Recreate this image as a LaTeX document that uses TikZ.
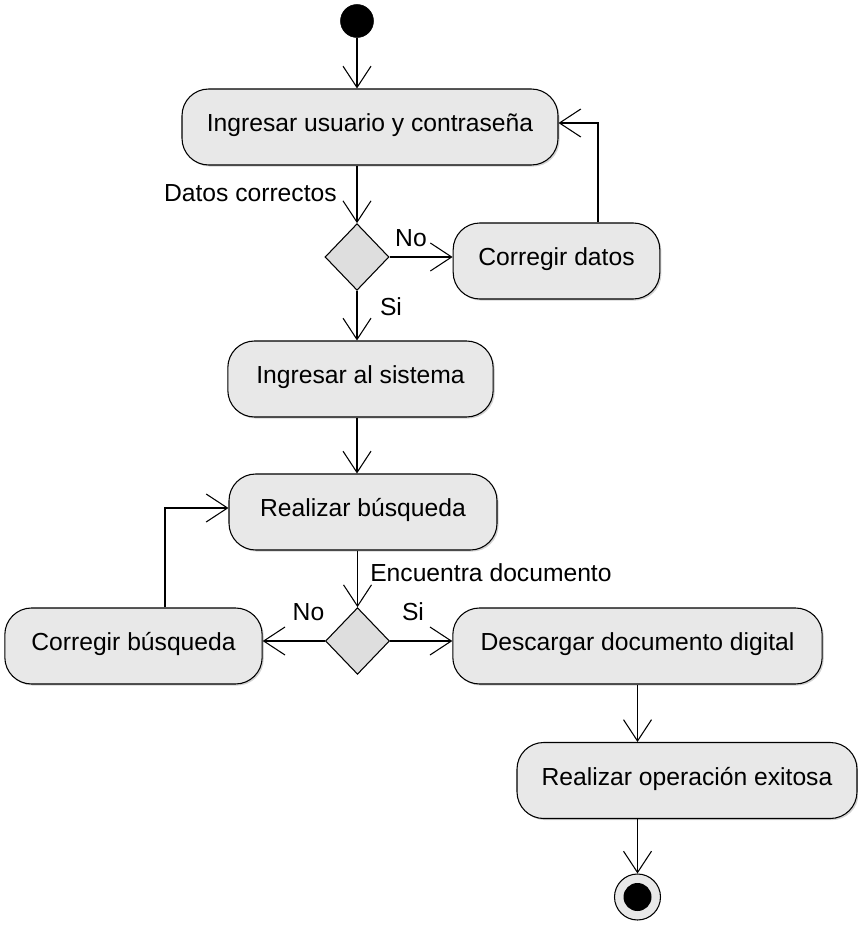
\documentclass[tikz,border=0pt]{standalone}
\usepackage{fontspec}
\setmainfont{Liberation Sans}
\usetikzlibrary{arrows.meta,shapes.geometric,shadows}
\definecolor{actfill}{RGB}{232,232,232}
\definecolor{decfill}{RGB}{222,222,222}
\tikzset{
  act/.style={draw=black, line width=0.8pt, fill=actfill, rounded corners=20pt,
    inner sep=0pt, minimum height=57pt, text height=13pt, text depth=5.8pt,
    font=\fontsize{18.5}{22}\selectfont,
    drop shadow={shadow xshift=1.2pt, shadow yshift=-1.2pt, opacity=0.35}},
  dec/.style={draw=black, diamond, fill=decfill, inner sep=0pt,
    minimum width=48pt, minimum height=50pt, line width=0.8pt},
  flow/.style={line width=0.8pt, -{Straight Barb[length=16pt,width=21pt]}},
  lbl/.style={font=\fontsize{18.5}{22}\selectfont, inner sep=0pt},
  startnode/.style={circle, draw=black, fill=black, inner sep=0pt, minimum size=24.75pt},
  endouter/.style={circle, draw=black, line width=0.8pt, fill=actfill, inner sep=0pt, minimum size=34.5pt},
  endinner/.style={circle, fill=black, inner sep=0pt, minimum size=21pt},
}
\begin{document}
\begin{tikzpicture}[x=0.75pt,y=-0.75pt]
\useasboundingbox (0,0) rectangle (857,927);

\node[startnode] (start) at (357,21) {};
\node[act, minimum width=282pt] (n1) at (370,127) {Ingresar usuario y contraseña};
\node[dec] (d1) at (357,257) {};
\node[act, minimum width=155pt] (cd) at (556.5,261) {Corregir datos};
\node[act, minimum width=199pt] (is) at (360.5,379) {Ingresar al sistema};
\node[act, minimum width=201pt] (rb) at (363,512) {Realizar búsqueda};
\node[dec] (d2) at (357.5,641) {};
\node[act, minimum width=193pt] (cb) at (133.5,646) {Corregir búsqueda};
\node[act, minimum width=277pt] (dd) at (637.5,646) {Descargar documento digital};
\node[act, minimum width=255pt] (ro) at (687,780.5) {Realizar operación exitosa};
\node[endouter] (end) at (637.5,897) {};
\node[endinner] (endin) at (end) {};

\coordinate (k1) at (598,123);
\coordinate (k2) at (165,508);

\draw[flow] (start) -- (start |- n1.north);
\draw[flow] (n1.south -| d1) -- (d1.north);
\node[lbl, anchor=east] (lab1) at (337,193) {Datos correctos};
\draw[flow] (d1.east) -- (d1.east -| cd.west);
\node[lbl] (lab2) at (411,238) {No};
\draw[flow] (d1.south) -- (d1.south |- is.north);
\node[lbl] (lab3) at (391,307) {Si};
\draw[flow] (cd.north -| k1) -- (k1) -- (k1 -| n1.east);
\draw[flow] (is.south -| d1) -- (d1 |- rb.north);
\draw[flow] (rb.south -| d2) -- (d2.north);
\node[lbl, anchor=west] (lab4) at (370,573) {Encuentra documento};
\draw[flow] (d2.west) -- (d2.west -| cb.east);
\node[lbl] (lab5) at (308.5,612) {No};
\draw[flow] (d2.east) -- (d2.east -| dd.west);
\node[lbl] (lab6) at (413,612) {Si};
\draw[flow] (cb.north -| k2) -- (k2) -- (k2 -| rb.west);
\draw[flow] (dd.south -| end) -- (end |- ro.north);
\draw[flow] (ro.south -| end) -- (end.north);
\end{tikzpicture}
\end{document}
